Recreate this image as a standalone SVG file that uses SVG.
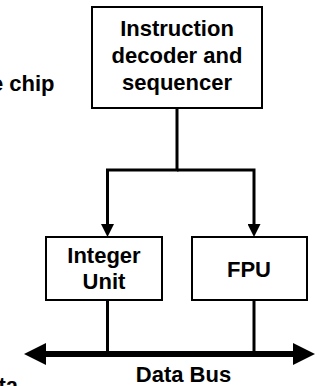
<svg xmlns="http://www.w3.org/2000/svg" width="320" height="386" viewBox="0 0 320 386">
<style>
  .box { fill: #fff; stroke: #000; stroke-width: 2; }
  .t { font-family: "Liberation Sans", Arial, sans-serif; font-weight: bold; font-size: 22px; fill: #000; }
  .c { text-anchor: middle; }
  .wire { fill: none; stroke: #000; stroke-width: 3; stroke-linejoin: miter; }
  .bus { fill: none; stroke: #000; stroke-width: 6; }
</style>
<defs>
  <marker id="arr" viewBox="0 0 13 13" refX="5" refY="6.5" markerWidth="13" markerHeight="13" markerUnits="userSpaceOnUse" orient="auto">
    <path d="M0,0 L13,6.5 L0,13 Z" fill="#000"/>
  </marker>
  <marker id="busarr" viewBox="0 0 22 22" refX="6" refY="11" markerWidth="22" markerHeight="22" markerUnits="userSpaceOnUse" orient="auto-start-reverse">
    <path d="M0,0 L22,11 L0,22 Z" fill="#000"/>
  </marker>
</defs>
<text class="t" x="54.5" y="91" text-anchor="end">the chip</text>
<text class="t" x="18" y="393" text-anchor="end">Data</text>
<g id="connectors">
  <path class="wire" d="M177,108 V170 H107.5 V229" marker-end="url(#arr)"/>
  <path class="wire" d="M177,170 H254 V229" marker-end="url(#arr)"/>
  <path class="wire" d="M107.5,300 V354"/>
  <path class="wire" d="M254,300 V354"/>
  <path class="bus" d="M40,354 H299" marker-start="url(#busarr)" marker-end="url(#busarr)"/>
</g>
<g id="decoder">
  <rect class="box" x="92" y="7" width="170" height="101"/>
  <text class="t c" x="177" y="36">Instruction</text>
  <text class="t c" x="177" y="63">decoder and</text>
  <text class="t c" x="177" y="90">sequencer</text>
</g>
<g id="integer">
  <rect class="box" x="46" y="237" width="116" height="63"/>
  <text class="t c" x="104" y="263">Integer</text>
  <text class="t c" x="104" y="289">Unit</text>
</g>
<g id="fpu">
  <rect class="box" x="192" y="237" width="115" height="63"/>
  <text class="t c" x="249" y="277">FPU</text>
</g>
<g id="databus-label">
  <text class="t c" x="183.5" y="381.5">Data Bus</text>
</g>
</svg>
